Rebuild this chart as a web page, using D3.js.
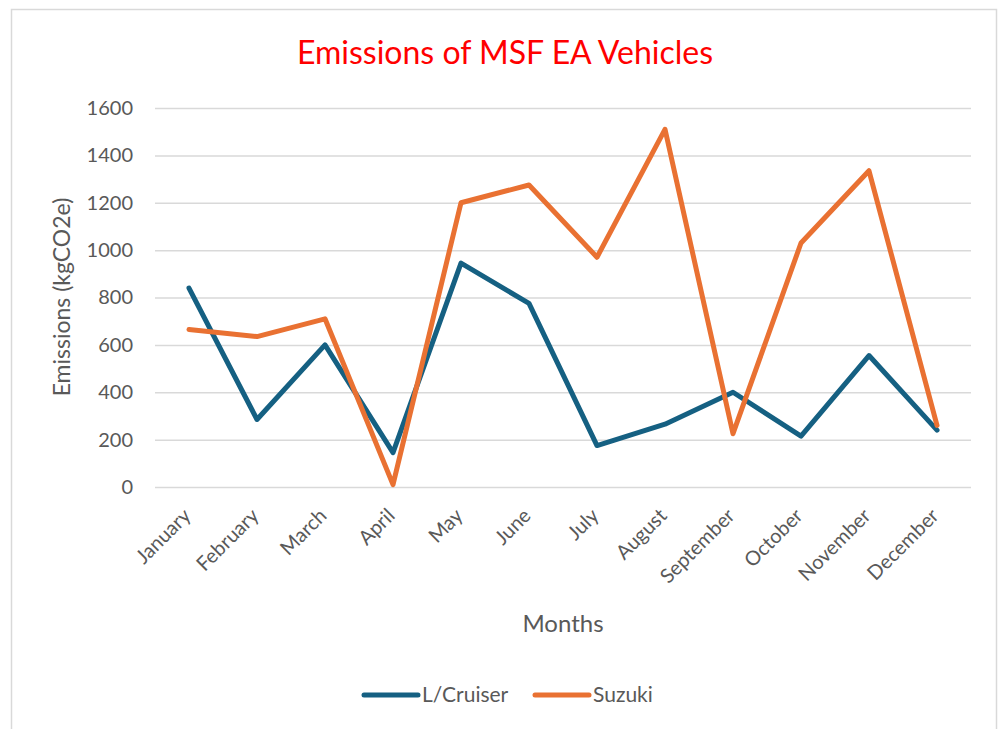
<!DOCTYPE html>
<html><head><meta charset="utf-8">
<script src="https://cdn.jsdelivr.net/npm/d3@7/dist/d3.min.js"></script>
<style>body{margin:0;background:#fff}svg{display:block}</style>
</head><body>
<svg id="c" width="1005" height="729"></svg>
<script>
const months = ["January","February","March","April","May","June","July","August","September","October","November","December"];
const landCruiser = [840, 285, 600, 145, 945, 775, 175, 265, 400, 215, 555, 240];
const suzuki = [665, 635, 710, 10, 1200, 1275, 970, 1510, 225, 1030, 1335, 260];
const yTicks = [0, 200, 400, 600, 800, 1000, 1200, 1400, 1600];
const seriesNames = ["L/Cruiser", "Suzuki"];
const colors = ["#156082", "#E97132"];

const font = "Lato, 'Open Sans', sans-serif";
const svg = d3.select("#c");
svg.append("rect").attr("x", 11.5).attr("y", 9.5).attr("width", 985).attr("height", 740)
  .attr("fill", "#fff").attr("stroke", "#d9d9d9").attr("stroke-width", 1.5);

const L = 155, R = 971, T = 108, B = 487;
const x = d3.scaleBand().domain(months).range([L, R]);
const y = d3.scaleLinear().domain([0, 1600]).range([B, T]);

// gridlines
const yAxis = d3.axisLeft(y).tickValues(yTicks).tickSize(-(R - L)).tickPadding(22).tickFormat(d3.format("d"));
const gy = svg.append("g").attr("transform", `translate(${L},0)`).call(yAxis);
gy.select(".domain").remove();
gy.selectAll(".tick line").attr("stroke", "#d9d9d9").attr("stroke-width", 1.5);
gy.selectAll(".tick text").attr("fill", "#595959").attr("font-size", 20).attr("font-family", font);

const xAxis = d3.axisBottom(x).tickSize(0).tickPadding(0);
const gx = svg.append("g").attr("transform", `translate(0,${B})`).call(xAxis);
gx.select(".domain").remove();
gx.selectAll(".tick text").attr("fill", "#595959").attr("font-size", 20).attr("font-family", font)
  .attr("text-anchor", "end").attr("dy", 0)
  .attr("transform", "translate(3,30) rotate(-45)");

// lines
const line = d3.line().x((d, i) => x(months[i]) + x.bandwidth() / 2).y(d => y(d));
[landCruiser, suzuki].forEach((s, k) => {
  svg.append("path").datum(s).attr("d", line).attr("fill", "none")
    .attr("stroke", colors[k]).attr("stroke-width", 5).attr("stroke-linejoin", "round").attr("stroke-linecap", "round");
});

// title
svg.append("text").attr("x", 505).attr("y", 64).attr("text-anchor", "middle")
  .attr("fill", "#ff0000").attr("font-size", 32).attr("font-family", font).text("Emissions of MSF EA Vehicles");
// axis titles
svg.append("text").attr("x", 563).attr("y", 632).attr("text-anchor", "middle")
  .attr("fill", "#595959").attr("font-size", 24).attr("font-family", font).text("Months");
svg.append("text").attr("transform", "translate(70,297) rotate(-90)").attr("text-anchor", "middle")
  .attr("fill", "#595959").attr("font-size", 23).attr("font-family", font).text("Emissions (kgCO2e)");

// legend
const legX = [364, 535];
seriesNames.forEach((n, k) => {
  svg.append("line").attr("x1", legX[k]).attr("x2", legX[k] + 54).attr("y1", 695).attr("y2", 695)
    .attr("stroke", colors[k]).attr("stroke-width", 5).attr("stroke-linecap", "round");
  svg.append("text").attr("x", legX[k] + 58).attr("y", 702).attr("fill", "#595959")
    .attr("font-size", 21).attr("font-family", font).text(n);
});
</script>
</body></html>
